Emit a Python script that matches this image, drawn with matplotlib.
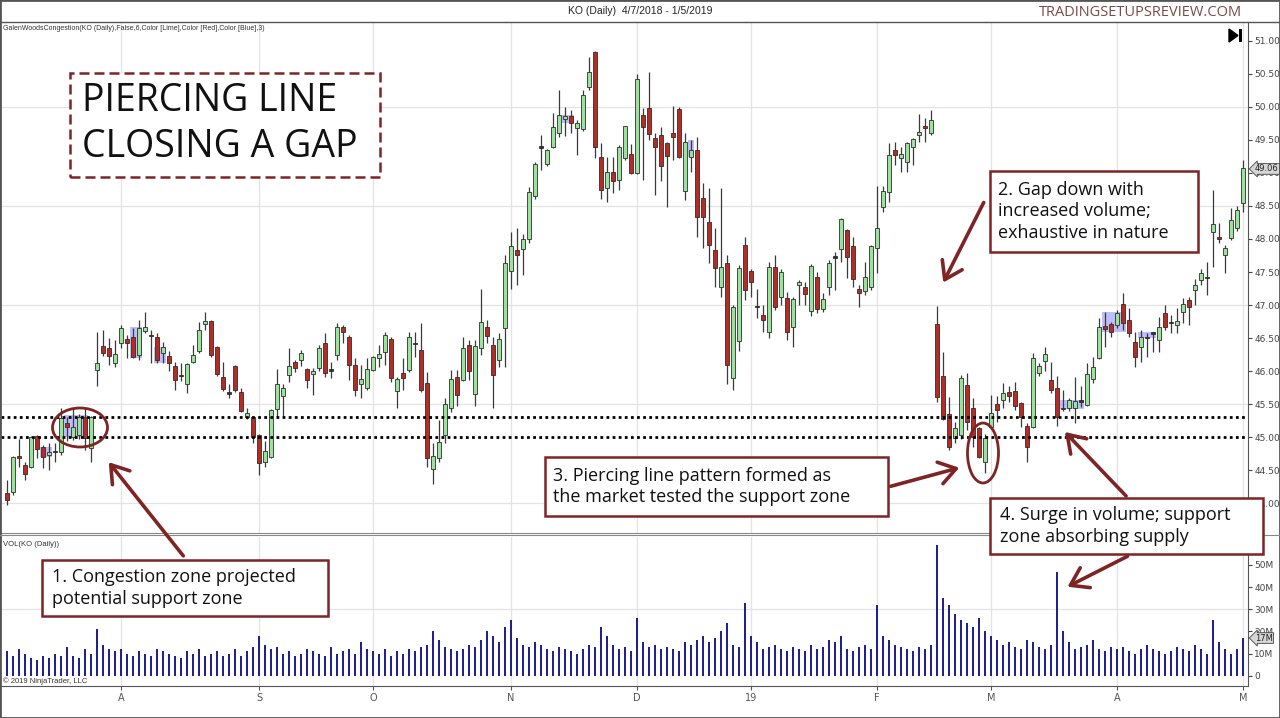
import numpy as np
import pandas as pd
import matplotlib
matplotlib.use('Agg')
import matplotlib.pyplot as plt
from matplotlib.patches import Rectangle, Ellipse, FancyArrowPatch, Polygon

# ---------------- data (KO daily, 5 Jul 2018 - 1 May 2019) ----------------
opens = [44.15,44.17,44.72,44.58,44.55,45.02,44.85,44.73,44.77,44.78,
 45.21,45.00,45.03,45.30,44.84,46.02,46.38,46.35,46.13,46.43,
 46.48,46.51,46.24,46.61,46.53,46.51,46.27,46.23,46.08,45.94,
 45.81,46.14,46.31,46.71,46.76,46.36,45.91,45.68,46.08,45.68,
 45.30,45.30,45.03,44.62,44.70,45.43,45.62,45.94,46.14,46.17,
 46.03,45.95,46.05,46.43,46.03,46.24,46.67,46.51,46.09,45.81,
 45.75,46.02,46.20,46.29,46.48,45.70,45.97,46.02,46.43,46.32,
 45.82,44.52,44.69,45.03,45.44,45.91,45.87,46.39,45.65,46.35,
 46.67,46.39,46.17,46.65,47.52,47.83,47.85,48.00,48.65,49.40,
 49.13,49.39,49.60,49.81,49.86,49.68,49.66,50.30,50.83,49.24,
 48.77,49.01,48.89,49.22,49.28,49.00,49.87,49.98,49.53,49.57,
 49.45,49.60,49.97,48.73,49.24,49.34,48.62,48.26,47.83,47.27,
 47.64,45.90,46.45,47.91,47.52,46.97,46.85,46.60,47.57,47.12,
 47.11,46.67,47.30,47.27,46.91,47.42,46.94,47.27,47.74,47.85,
 48.13,47.89,47.24,47.21,47.27,47.86,48.48,48.71,49.34,49.22,
 49.16,49.39,49.57,49.71,49.60,46.72,45.92,45.35,44.99,45.03,
 45.79,45.45,45.14,44.62,45.16,45.50,45.56,45.68,45.70,45.52,
 45.17,45.16,45.97,46.15,45.87,45.75,45.45,45.44,45.44,45.56,
 45.49,45.88,46.20,46.69,46.72,46.70,47.01,46.77,46.44,46.36,
 46.52,46.59,46.47,46.88,46.75,46.70,46.89,47.07,47.23,47.38,
 47.42,48.10,48.03,47.76,48.01,48.17,48.54]
highs = [44.35,44.72,44.97,44.62,45.02,45.04,44.88,44.91,44.91,45.44,
 45.30,45.44,45.35,45.44,45.32,46.59,46.62,46.50,46.47,46.70,
 46.55,46.65,46.78,46.89,46.62,46.58,46.44,46.30,46.14,46.12,
 46.13,46.39,46.74,46.89,46.78,46.38,46.14,45.80,46.10,45.75,
 45.44,45.32,45.05,44.94,45.43,46.03,45.80,46.35,46.17,46.32,
 46.05,46.05,46.40,46.58,46.14,46.73,46.70,46.55,46.20,46.09,
 46.20,46.23,46.39,46.59,46.52,45.91,46.20,46.59,46.59,46.73,
 45.99,44.91,45.26,45.60,46.02,46.02,46.51,46.47,46.47,47.25,
 46.78,46.51,46.58,47.76,48.10,48.17,48.08,48.79,49.16,49.57,
 49.36,49.90,50.25,50.00,49.95,49.80,50.25,50.75,50.84,49.45,
 49.24,49.24,49.42,49.71,49.43,50.50,49.98,50.53,49.60,49.69,
 49.46,50.01,50.00,49.60,49.50,49.54,48.85,48.77,48.17,48.77,
 47.76,47.00,47.60,48.03,47.55,47.25,47.00,47.65,47.76,47.55,
 47.20,47.12,47.38,47.35,47.62,47.50,47.18,47.68,47.80,48.32,
 48.15,48.03,47.30,47.65,47.91,48.80,48.80,49.45,49.47,49.39,
 49.47,49.53,49.89,49.83,49.95,46.98,46.29,45.61,45.23,45.94,
 45.97,45.59,45.16,45.05,45.64,45.63,45.82,45.77,45.83,45.53,
 45.22,46.27,46.12,46.37,46.14,45.93,45.72,45.60,45.91,45.77,
 46.12,46.21,46.80,46.89,46.75,46.92,47.18,46.95,46.59,46.62,
 46.58,46.60,46.82,47.00,46.85,46.95,47.10,47.12,47.40,47.55,
 47.65,48.74,48.24,47.91,48.47,48.50,49.19]
lows = [43.98,44.12,44.55,44.36,44.53,44.68,44.53,44.50,44.62,44.73,
 44.95,44.96,44.98,44.81,44.62,45.78,46.23,46.09,46.07,46.35,
 46.20,46.20,46.17,46.58,46.13,46.13,46.13,46.00,45.72,45.85,
 45.67,46.12,46.28,46.62,46.22,45.93,45.70,45.60,45.69,45.38,
 45.27,44.91,44.43,44.55,44.68,45.30,45.30,45.84,45.99,46.08,
 45.75,45.64,46.00,45.91,45.90,46.17,46.43,45.87,45.63,45.60,
 45.72,46.00,46.06,46.09,45.84,45.45,45.71,45.99,46.21,45.68,
 44.55,44.29,44.62,44.91,45.39,45.48,45.85,45.87,45.48,46.24,
 46.42,45.45,46.06,46.06,47.24,47.30,47.45,47.94,48.60,49.04,
 49.10,49.38,49.54,49.56,49.60,49.27,49.64,50.25,49.22,48.60,
 48.56,48.69,48.74,49.20,48.98,48.98,48.89,49.50,48.66,48.87,
 48.48,49.19,49.22,48.59,49.01,48.03,47.86,47.64,47.27,47.12,
 45.80,45.72,46.30,47.08,47.12,46.80,46.60,46.50,46.92,47.00,
 46.47,46.36,47.00,47.00,46.83,46.88,46.90,47.15,47.23,47.65,
 47.41,47.27,46.97,47.15,47.23,47.49,48.41,48.56,49.12,49.01,
 49.01,49.12,49.47,49.47,49.58,45.53,45.26,44.81,44.91,44.97,
 45.11,44.85,44.69,44.46,45.14,45.23,45.44,45.53,45.41,45.16,
 44.62,45.14,45.92,46.00,45.67,45.17,45.40,45.40,45.22,45.46,
 45.47,45.82,46.18,46.36,46.52,46.65,46.62,46.52,46.06,46.14,
 46.21,46.29,46.29,46.62,46.58,46.58,46.73,46.70,47.00,47.30,
 47.15,47.58,47.94,47.48,47.98,48.12,48.41]
closes = [44.05,44.70,44.68,44.44,45.00,44.83,44.70,44.78,44.77,45.29,
 45.15,45.15,45.30,44.99,45.30,46.12,46.27,46.23,46.26,46.65,
 46.42,46.21,46.65,46.67,46.53,46.17,46.36,46.12,45.87,45.92,
 46.11,46.24,46.62,46.76,46.24,45.96,45.73,45.66,45.71,45.40,
 45.37,45.00,44.61,44.79,45.41,45.81,45.75,46.08,46.05,46.27,
 45.87,46.00,46.35,45.97,46.01,46.67,46.60,46.09,45.71,45.88,
 46.04,46.21,46.26,46.55,45.90,45.88,45.90,46.51,46.41,45.71,
 44.69,44.72,44.93,45.50,45.88,45.64,46.35,46.00,46.38,46.75,
 46.53,45.94,46.48,47.64,47.89,47.76,48.00,48.71,49.13,49.38,
 49.34,49.69,49.87,49.86,49.75,49.75,50.18,50.53,49.39,48.74,
 49.01,48.87,49.39,49.71,49.00,50.42,49.69,49.59,49.39,49.10,
 49.25,49.54,49.24,49.47,49.34,48.33,48.33,47.91,47.56,47.57,
 46.10,46.97,47.56,47.23,47.35,46.97,46.77,47.57,46.97,47.50,
 46.59,47.09,47.35,47.17,47.59,46.94,47.09,47.63,47.72,48.30,
 47.73,47.39,47.18,47.42,47.89,48.16,48.73,49.27,49.27,49.28,
 49.45,49.51,49.62,49.68,49.80,45.61,45.27,44.85,45.14,45.90,
 45.23,45.00,44.70,44.99,45.37,45.41,45.67,45.62,45.47,45.31,
 44.86,46.20,46.08,46.26,45.72,45.31,45.43,45.56,45.55,45.54,
 45.96,46.06,46.67,46.64,46.60,46.88,46.73,46.58,46.21,46.51,
 46.50,46.57,46.67,46.67,46.73,46.76,47.01,46.97,47.30,47.48,
 47.41,48.22,48.00,47.86,48.29,48.44,49.07]
volumes_m = [11,9,12,10,8,7,9,8,10,9,13,9,8,12,10,21,14,12,11,
 12,10,9,11,10,9,12,11,10,9,8,11,10,12,9,10,11,9,10,12,9,11,13,
 18,14,12,13,10,11,9,10,12,11,10,9,13,10,11,12,10,15,12,
 11,10,12,9,11,10,12,11,13,14,20,16,13,12,11,12,14,13,16,20,18,15,22,
 25,17,14,13,15,14,12,11,13,12,11,10,12,14,13,22,18,14,12,13,11,
 26,15,13,14,12,13,12,11,15,14,16,18,15,17,20,24,14,13,33,
 18,15,12,13,14,12,11,13,12,11,14,12,13,16,15,18,12,11,13,14,12,
 32,18,16,14,13,12,11,13,12,14,59,35,32,28,25,24,22,26,20,
 18,16,14,15,13,12,16,15,13,12,14,47,20,15,12,13,14,16,12,11,13,
 12,13,11,10,12,14,12,11,10,11,13,12,11,14,12,10,25,15,12,10,12,
 17]

holidays = ['2018-09-03', '2018-11-22', '2018-12-05', '2018-12-25',
            '2019-01-01', '2019-01-21', '2019-02-18', '2019-04-19']
month_labels = ['A', 'S', 'O', 'N', 'D', '19', 'F', 'M', 'A', 'M']
price_ticks = [44.0, 44.5, 45.0, 45.5, 46.0, 46.5, 47.0, 47.5, 48.0, 48.5, 49.0, 49.5, 50.0, 50.5, 51.0]
price_grid = [44.0, 45.5, 47.0, 48.5, 50.0]
support_levels = [45.30, 45.00]
vol_ticks = [0, 10, 20, 30, 40, 50]
vol_tick_labels = ['0', '10M', '20M', '30M', '40M', '50M']
last_price = 49.06
last_volume = 17
# congestion zones: (first bar, last bar, low, high)
congestion = [(6, 7, 44.70, 44.86), (10, 13, 45.00, 45.33), (21, 22, 46.20, 46.67),
              (25, 26, 46.13, 46.36), (93, 94, 49.75, 49.87), (114, 114, 49.24, 49.50),
              (176, 179, 45.43, 45.57), (183, 186, 46.60, 46.90), (189, 191, 46.50, 46.60)]

# ---------------- derived ----------------
o = np.array(opens); h = np.array(highs); l = np.array(lows); c = np.array(closes)
v = np.array(volumes_m, dtype=float)
n = len(o)
dates = pd.bdate_range('2018-07-05', '2019-05-01')
dates = dates[~dates.isin(pd.to_datetime(holidays))][:n]
x = np.arange(n)
mon = dates.month.values
month_idx = [i for i in range(1, len(dates)) if mon[i] != mon[i - 1]]

W, H = 1280, 718
def fx(px): return px / W
def fy(py): return 1 - py / H

fig = plt.figure(figsize=(12.8, 7.18), dpi=100)
fig.patch.set_facecolor('white')

axp = fig.add_axes([fx(1), fy(533), fx(1248) - fx(1), fy(22) - fy(533)])
axv = fig.add_axes([fx(1), fy(686), fx(1248) - fx(1), fy(537) - fy(686)])
xl = ((1 - 7) / 6, (1248 - 7) / 6)

GREEN = '#98E498'
RED = '#C0281F'
DARK = '#333333'
EDGE = '#2e2e2e'
GRID = '#e3e3e3'

# price panel
axp.set_xlim(*xl)
axp.set_ylim(43.552, 51.283)
for lvl in price_grid:
    axp.axhline(lvl, color=GRID, lw=0.9, zorder=0)
for mi in month_idx:
    axp.axvline(mi, color=GRID, lw=0.9, zorder=0)
for s, e, lo, hi in congestion:
    axp.add_patch(Rectangle((s - 0.5, lo), e - s + 1, hi - lo, fc='#8a8aff', ec='none', alpha=0.55, zorder=1))
for lvl in support_levels:
    axp.axhline(lvl, color='black', lw=2.0, ls=(0, (1, 1.2)), zorder=4)

doji = np.abs(c - o) <= 0.025
cols = np.where(doji, DARK, np.where(c > o, GREEN, RED))
body_lo = np.minimum(o, c)
body_h = np.maximum(np.abs(c - o), 0.018)
axp.vlines(x, l, h, color='#3a3a3a', lw=0.9, zorder=2)
axp.bar(x, body_h, bottom=body_lo, width=0.68, color=cols, edgecolor=EDGE, linewidth=0.6, zorder=3)

axp.yaxis.tick_right()
axp.set_yticks(price_ticks)
axp.set_yticklabels(['%.2f' % t for t in price_ticks])
axp.tick_params(axis='y', labelsize=6.5, length=3, colors='#444', pad=1.5)
axp.set_xticks([])
for side in ['left', 'top']:
    axp.spines[side].set_visible(False)
axp.spines['right'].set_color('#555')
axp.spines['bottom'].set_color('#888')
axp.text(1.0055, last_price, '%.2f' % last_price, transform=axp.get_yaxis_transform(),
         ha='left', va='center', fontsize=6, color='#222',
         bbox=dict(boxstyle='larrow,pad=0.1', fc='#d6d6d6', ec='#444', lw=0.6), zorder=6, clip_on=False)

# volume panel
axv.set_xlim(*xl)
axv.set_ylim(-4.65, 62.6)
axv.axhline(30, color=GRID, lw=0.9, zorder=0)
for mi in month_idx:
    axv.axvline(mi, color=GRID, lw=0.9, zorder=0)
axv.vlines(x, 0, v, color='#1b1b8f', lw=1.4, zorder=2)
axv.yaxis.tick_right()
axv.set_yticks(vol_ticks)
axv.set_yticklabels(vol_tick_labels)
axv.tick_params(axis='y', labelsize=6.5, length=3, colors='#444', pad=1.5)
axv.set_xticks(month_idx)
axv.set_xticklabels(month_labels)
axv.tick_params(axis='x', labelsize=7, length=3, colors='#555', pad=2)
for side in ['left', 'top']:
    axv.spines[side].set_visible(False)
axv.spines['right'].set_color('#555')
axv.spines['bottom'].set_color('#555')
axv.text(1.0055, last_volume, '%dM' % last_volume, transform=axv.get_yaxis_transform(),
         ha='left', va='center', fontsize=6, color='#222',
         bbox=dict(boxstyle='larrow,pad=0.1', fc='#d6d6d6', ec='#444', lw=0.6), zorder=6, clip_on=False)

# ---------------- frame & header texts ----------------
fig.add_artist(Rectangle((0, 0), 1, 1, transform=fig.transFigure, fill=False, ec='#555', lw=2))
fig.add_artist(plt.Line2D([0, 1], [fy(21.5), fy(21.5)], transform=fig.transFigure, color='#555', lw=1))
fig.add_artist(plt.Line2D([0, 1], [fy(535), fy(535)], transform=fig.transFigure, color='#888', lw=0.8))

fig.text(0.5, fy(11), 'KO (Daily)  4/7/2018 - 1/5/2019', ha='center', va='center',
         fontsize=7.5, family='Liberation Sans', color='#222')
fig.text(fx(1140), fy(13), 'TRADINGSETUPSREVIEW.COM', ha='center', va='center',
         fontsize=10.5, family='Open Sans', color='#7a4a48')
fig.text(fx(3), fy(28), 'GalenWoodsCongestion(KO (Daily),False,6,Color [Lime],Color [Red],Color [Blue],3)',
         ha='left', va='center', fontsize=5, family='Liberation Sans', color='#333')
fig.text(fx(3), fy(545), 'VOL(KO (Daily))', ha='left', va='center', fontsize=5.5,
         family='Liberation Sans', color='#333')
fig.text(fx(3), fy(681), '\u00a9 2019 NinjaTrader, LLC', ha='left', va='center', fontsize=5.5,
         family='Liberation Sans', color='#333')
# "go to end" icon
fig.add_artist(Polygon([(fx(1229), fy(29)), (fx(1229), fy(42)), (fx(1238), fy(35.5))],
                       closed=True, transform=fig.transFigure, fc='black', ec='black'))
fig.add_artist(Rectangle((fx(1239), fy(42)), 3 / W, 13 / H, transform=fig.transFigure, fc='black', ec='none'))

# ---------------- annotations ----------------
ANN = '#7e2424'
FONT = ['Open Sans', 'DejaVu Sans']

def box(x0, y0, x1, y1, dashed=False):
    fig.add_artist(Rectangle((fx(x0), fy(y1)), (x1 - x0) / W, (y1 - y0) / H, transform=fig.transFigure,
                             fc='white', ec=ANN, lw=1.8, ls=(0, (4, 2)) if dashed else '-', zorder=5))

def arrow(x0, y0, x1, y1):
    fig.add_artist(FancyArrowPatch((fx(x0), fy(y0)), (fx(x1), fy(y1)), transform=fig.transFigure,
                                   arrowstyle='->,head_length=0.6,head_width=0.4', mutation_scale=20,
                                   color=ANN, lw=2.6, zorder=6))

box(70, 73, 380, 177, dashed=True)
fig.text(fx(82), fy(101), 'PIERCING LINE', ha='left', va='center', fontsize=27, family=FONT, color='#111', zorder=7)
fig.text(fx(82), fy(147), 'CLOSING A GAP', ha='left', va='center', fontsize=27, family=FONT, color='#111', zorder=7)

box(990, 171, 1198, 252)
fig.text(fx(998), fy(211.5), '2. Gap down with\nincreased volume;\nexhaustive in nature', ha='left', va='center',
         fontsize=13, family=FONT, color='#111', linespacing=1.25, zorder=7)
box(545, 457, 888, 516)
fig.text(fx(553), fy(486.5), '3. Piercing line pattern formed as\nthe market tested the support zone', ha='left',
         va='center', fontsize=13, family=FONT, color='#111', linespacing=1.25, zorder=7)
box(990, 498, 1263, 554)
fig.text(fx(1000), fy(526), '4. Surge in volume; support\nzone absorbing supply', ha='left', va='center',
         fontsize=13, family=FONT, color='#111', linespacing=1.25, zorder=7)
box(42, 560, 328, 616)
fig.text(fx(52), fy(588), '1. Congestion zone projected\npotential support zone', ha='left', va='center',
         fontsize=13, family=FONT, color='#111', linespacing=1.25, zorder=7)

arrow(185, 558, 107, 460)
arrow(985, 200, 942, 285)
arrow(888, 487, 962, 467)
arrow(1128, 498, 1063, 430)
arrow(1130, 555, 1065, 588)

fig.add_artist(Ellipse((fx(80), fy(427.5)), 55 / W, 39 / H, transform=fig.transFigure,
                       fill=False, ec=ANN, lw=2, zorder=6))
fig.add_artist(Ellipse((fx(983), fy(453)), 31 / W, 60 / H, transform=fig.transFigure,
                       fill=False, ec=ANN, lw=2, zorder=6))

fig.savefig('out.png', dpi=100)
